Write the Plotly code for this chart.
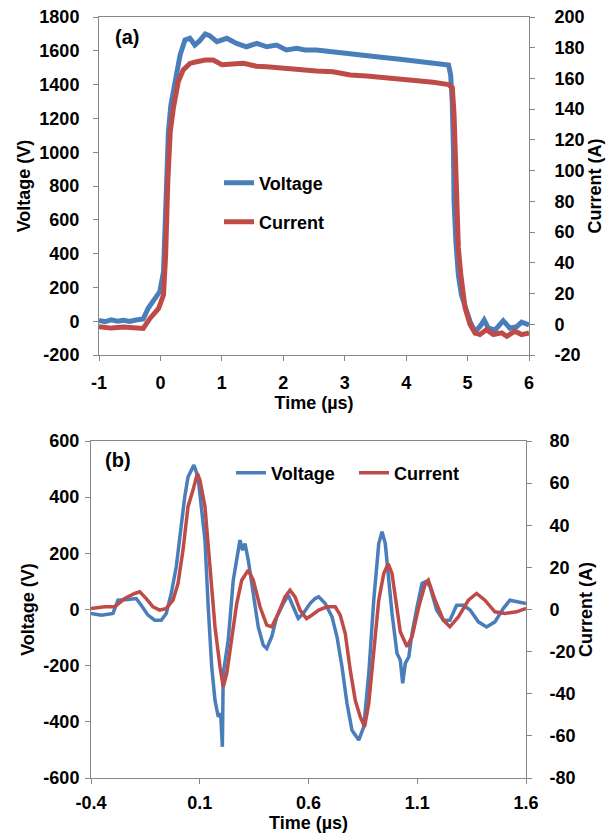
import plotly.graph_objects as go

# (a) full pulse
t_a_v = [-1.0, -0.9, -0.8, -0.7, -0.6, -0.5, -0.4, -0.28, -0.2, -0.09, -0.01, 0.05, 0.075, 0.10, 0.13, 0.17,
         0.24, 0.32, 0.40, 0.48, 0.56, 0.64, 0.73, 0.80, 0.92, 1.08, 1.24, 1.40, 1.57, 1.73, 1.89, 2.05,
         2.22, 2.35, 2.54, 2.81, 3.09, 3.36, 3.63, 3.90, 4.17, 4.44, 4.69, 4.725, 4.75, 4.77, 4.78, 4.81,
         4.85, 4.90, 4.96, 5.04, 5.12, 5.20, 5.27, 5.34, 5.45, 5.58, 5.69, 5.80, 5.88, 6.0]
v_a = [5, -3, 8, 0, 6, -2, 7, 13, 76, 136, 175, 293, 629, 924, 1122, 1279,
       1417, 1575, 1664, 1674, 1634, 1660, 1700, 1690, 1654, 1674, 1644, 1624, 1644, 1624, 1634, 1605,
       1615, 1605, 1605, 1592, 1582, 1570, 1560, 1550, 1536, 1525, 1516, 1457, 1299, 1023, 707, 471,
       274, 155, 76, -2, -62, -32, 7, -42, -52, 3, -42, -32, -6, -22]

t_a_i = [-1.0, -0.8, -0.6, -0.4, -0.28, -0.17, -0.03, 0.05, 0.085, 0.12, 0.16, 0.21, 0.29, 0.37, 0.48, 0.59,
         0.73, 0.86, 1.0, 1.35, 1.56, 1.73, 2.05, 2.35, 2.54, 2.81, 3.09, 3.36, 3.63, 3.90, 4.17, 4.44,
         4.69, 4.752, 4.78, 4.80, 4.82, 4.85, 4.89, 4.96, 5.04, 5.12, 5.20, 5.31, 5.42, 5.555, 5.64, 5.77,
         5.88, 6.0]
i_a = [-1.6, -2.5, -1.8, -2.6, -2.7, 3.8, 10.3, 19.0, 45.1, 92.8, 125.4, 140.5, 157.9, 165.5, 169.8, 170.9,
       172.0, 172.0, 169, 169.9, 168, 167.6, 166.5, 165, 164.8, 164.4, 162.2, 161.6, 160.7, 159.4, 158.5, 157.5,
       156, 153.9, 136.5, 104, 71.4, 49.7, 32.3, 10.6, -0.2, -5.6, -6.7, -3.5, -6.7, -5.6, -7.8, -4.5,
       -6.7, -5.6]

# (b) oscillation
t_b_v = [-0.40, -0.352, -0.299, -0.276, -0.230, -0.192, -0.169, -0.138, -0.107, -0.077, -0.054, -0.031,
         -0.008, 0.015, 0.031, 0.046, 0.061, 0.073, 0.092, 0.107, 0.124, 0.139, 0.155, 0.170, 0.185, 0.196,
         0.204, 0.208, 0.216, 0.231, 0.254, 0.270, 0.285, 0.297, 0.308, 0.323, 0.346, 0.369, 0.392, 0.408,
         0.431, 0.454, 0.484, 0.507, 0.530, 0.553, 0.576, 0.607, 0.630, 0.647, 0.677, 0.708, 0.731, 0.754,
         0.777, 0.800, 0.831, 0.854, 0.877, 0.900, 0.923, 0.938, 0.953, 0.969, 0.984, 1.007, 1.022, 1.033,
         1.045, 1.061, 1.076, 1.099, 1.122, 1.140, 1.159, 1.189, 1.220, 1.250, 1.281, 1.312, 1.343, 1.381,
         1.419, 1.457, 1.496, 1.526, 1.557, 1.60]
v_b = [-14, -20, -14, 33, 36, 39, 15, -20, -38, -38, -14, 57,
       152, 306, 401, 472, 496, 514, 472, 366, 247, 9, -204, -323, -382, -370,
       -489, -228, -192, -109, 104, 176, 247, 211, 235, 176, 57, -62, -127, -139,
       -97, -26, 21, 51, 9, -32, -14, 21, 39, 45, 21, -26, -97, -204,
       -335, -430, -465, -418, -228, 33, 235, 277, 235, 104, -14, -157, -180, -263,
       -192, -169, -85, 9, 93, 100, 81, -2, -38, -38, 15, 15, -2, -44,
       -62, -44, 4, 33, 27, 21]

t_b_i = [-0.40, -0.337, -0.291, -0.245, -0.199, -0.176, -0.146, -0.115, -0.084, -0.054, -0.023, 0.000,
         0.023, 0.046, 0.069, 0.089, 0.101, 0.124, 0.147, 0.170, 0.193, 0.208, 0.224, 0.247, 0.270, 0.293,
         0.323, 0.346, 0.377, 0.408, 0.431, 0.461, 0.492, 0.515, 0.538, 0.561, 0.591, 0.615, 0.647, 0.685,
         0.723, 0.746, 0.769, 0.792, 0.815, 0.838, 0.858, 0.877, 0.900, 0.923, 0.946, 0.966, 0.984, 1.007,
         1.022, 1.053, 1.076, 1.107, 1.137, 1.151, 1.182, 1.220, 1.250, 1.289, 1.335, 1.373, 1.411, 1.457,
         1.503, 1.557, 1.60]
i_b = [0.5, 1.3, 1.3, 5.2, 7.6, 8.4, 5.2, 1.3, -0.3, 0.5, 4.4, 12.3,
       28.2, 48.8, 56.7, 64.6, 61.4, 48.8, 20.3, -8.2, -27.2, -36.7, -30.4, -14.6, 2.8, 13.9,
       18.7, 13.9, 1.3, -7.4, -8.2, -1.9, 6.0, 9.2, 6.0, -0.3, -4.3, -2.7, -0.3, 1.3,
       1.3, -2.7, -11.4, -28.8, -43.1, -51.0, -55.7, -44.6, -20.9, 4.4, 17.1, 21.8, 17.1, 1.3,
       -10.6, -17.7, -13.0, 1.3, 12.3, 13.9, 4.4, -5.1, -8.2, -3.5, 4.4, 7.6, 4.4, -1.1,
       -1.9, -1.1, 0.5]

# tick labels (plain hyphen minus, as in the original)
x_a_ticks = [-1, 0, 1, 2, 3, 4, 5, 6]
v_a_ticks = [-200, 0, 200, 400, 600, 800, 1000, 1200, 1400, 1600, 1800]
i_a_ticks = [-20, 0, 20, 40, 60, 80, 100, 120, 140, 160, 180, 200]
x_b_ticks = [-0.4, 0.1, 0.6, 1.1, 1.6]
x_b_labels = ["-0.4", "0.1", "0.6", "1.1", "1.6"]
v_b_ticks = [-600, -400, -200, 0, 200, 400, 600]
i_b_ticks = [-80, -60, -40, -20, 0, 20, 40, 60, 80]

W, H = 611, 837
BLUE = "#4a7ebb"
RED = "#be4b48"
GREY = "#868686"
FONT = dict(family="Liberation Sans, Arial, sans-serif", size=18, color="black")


def px_x(a, b):
    return [a / W, b / W]


def px_y(top, bottom):
    return [(H - bottom) / H, (H - top) / H]


def labels(vals):
    return [str(v) for v in vals]


fig = go.Figure()
fig.add_trace(go.Scatter(x=t_a_v, y=v_a, name="Voltage", mode="lines",
                         line=dict(color=BLUE, width=5), xaxis="x", yaxis="y", legend="legend"))
fig.add_trace(go.Scatter(x=t_a_i, y=i_a, name="Current", mode="lines",
                         line=dict(color=RED, width=5), xaxis="x", yaxis="y2", legend="legend2"))
fig.add_trace(go.Scatter(x=t_b_v, y=v_b, name="Voltage", mode="lines",
                         line=dict(color=BLUE, width=3.5), xaxis="x2", yaxis="y3", legend="legend3"))
fig.add_trace(go.Scatter(x=t_b_i, y=i_b, name="Current", mode="lines",
                         line=dict(color=RED, width=3.5), xaxis="x2", yaxis="y4", legend="legend4"))

axis_common = dict(showline=True, linecolor=GREY, linewidth=1, ticks="outside", ticklen=5,
                   tickcolor=GREY, showgrid=False, zeroline=False, automargin=False,
                   tickmode="array",
                   tickfont=dict(FONT, weight="bold"), title_font=dict(FONT, weight="bold"))

legend_common = dict(xanchor="left", yanchor="middle", bgcolor="rgba(0,0,0,0)",
                     font=dict(FONT, weight="bold"))

fig.update_layout(
    width=W, height=H,
    margin=dict(l=0, r=0, t=0, b=0),
    paper_bgcolor="white", plot_bgcolor="white",
    font=FONT,
    showlegend=True,
    xaxis=dict(axis_common, domain=px_x(99, 529), range=[-1, 6], anchor="y", mirror=True,
               tickvals=x_a_ticks, ticktext=labels(x_a_ticks),
               title=dict(text="Time (µs)", standoff=2), ticklabelstandoff=6),
    yaxis=dict(axis_common, domain=px_y(17, 355), range=[-200, 1800], anchor="x",
               tickvals=v_a_ticks, ticktext=labels(v_a_ticks),
               title=dict(text="Voltage (V)", standoff=4), ticklabelstandoff=10),
    yaxis2=dict(axis_common, range=[-20, 200], overlaying="y", side="right", anchor="x",
                tickvals=i_a_ticks, ticktext=labels(i_a_ticks),
                title=dict(text="Current (A)", standoff=0), ticklabelstandoff=16),
    xaxis2=dict(axis_common, domain=px_x(91, 526), range=[-0.4, 1.6], anchor="y3", mirror=True,
                tickvals=x_b_ticks, ticktext=x_b_labels,
                title=dict(text="Time (µs)", standoff=2), ticklabelstandoff=3),
    yaxis3=dict(axis_common, domain=px_y(441, 778), range=[-600, 600], anchor="x2",
                tickvals=v_b_ticks, ticktext=labels(v_b_ticks),
                title=dict(text="Voltage (V)", standoff=4), ticklabelstandoff=2),
    yaxis4=dict(axis_common, range=[-80, 80], overlaying="y3", side="right", anchor="x2",
                tickvals=i_b_ticks, ticktext=labels(i_b_ticks),
                title=dict(text="Current (A)", standoff=0), ticklabelstandoff=14),
    legend=dict(legend_common, x=219 / W, y=(H - 183) / H),
    legend2=dict(legend_common, x=219 / W, y=(H - 222) / H),
    legend3=dict(legend_common, x=231 / W, y=(H - 473) / H),
    legend4=dict(legend_common, x=354 / W, y=(H - 473) / H),
)

fig.add_annotation(text="<b>(a)</b>", x=113 / W, y=(H - 37) / H, xref="paper", yref="paper",
                   xanchor="left", yanchor="middle", showarrow=False, font=dict(FONT, size=20))
fig.add_annotation(text="<b>(b)</b>", x=103 / W, y=(H - 460) / H, xref="paper", yref="paper",
                   xanchor="left", yanchor="middle", showarrow=False, font=dict(FONT, size=20))

# drop the default page margin so the figure sits at the window's corner
fig.write_html("out.html", config={"displayModeBar": False},
               post_script="document.body.style.margin='0';")
